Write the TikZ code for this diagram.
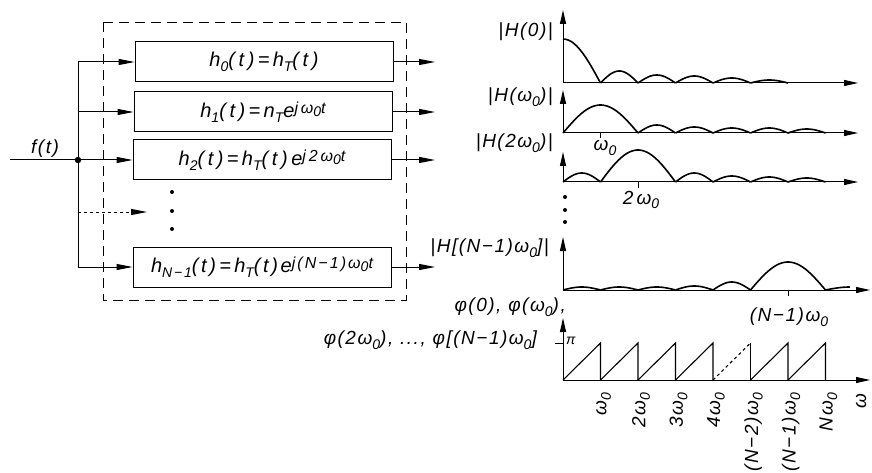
\documentclass[tikz,border=0pt]{standalone}
\usepackage{fontspec}
\setmainfont{Liberation Sans}[LetterSpace=8]
\usetikzlibrary{arrows.meta, positioning, fit}

\newcommand{\sub}[1]{\raisebox{-0.45ex}{\fontsize{14}{14}\selectfont #1}}
\newcommand{\ex}[1]{\raisebox{0.45ex}{\fontsize{16}{16}\selectfont #1}}
\newcommand{\lobe}[3]{\draw[spec] plot[domain=0:180, samples=30, smooth] ({(#1+#2*\x/180)*37.5}, {-(#3)*sin(\x)});}

\begin{document}
\begin{tikzpicture}[
    x=1pt, y=-1pt,
    filt/.style={
        rectangle, draw, line width=1pt,
        minimum width=258pt, minimum height=40pt, inner sep=1pt,
        font=\fontsize{20}{22}\selectfont\itshape\addfontfeatures{LetterSpace=18}
    },
    filtn/.style={filt,
        font=\fontsize{20}{22}\selectfont\itshape\addfontfeatures{LetterSpace=13}
    },
    sig/.style={-{Triangle[length=16pt, width=6pt]}, line width=1pt},
    ax/.style={-{Triangle[length=14pt, width=6pt]}, line width=1pt},
    spec/.style={line width=1.6pt},
    saw/.style={line width=1.1pt},
    lbl/.style={font=\fontsize{19}{22}\selectfont\itshape, inner sep=1pt},
    wlbl/.style={lbl, rotate=90, anchor=east},
    pt/.style={circle, fill, inner sep=0pt, minimum size=4pt}
]
\useasboundingbox (0,0) rectangle (872,473);

% === FILTER BANK ===

\draw[dashed, line width=0.9pt, dash pattern=on 10pt off 6pt] (103,22) rectangle (406,300);

\node[filt] (h0) at (264,62) {h\sub{0}(t)\,=\,h\sub{T}(t)};
\node[filt] (h1) at (263,112) {h\sub{1}(t)\,=\,n\sub{T}e\ex{jω\sub{0}t}};
\node[filt] (h2) at (262,160) {h\sub{2}(t)\,=\,h\sub{T}(t)e\ex{j2ω\sub{0}t}};
\node[filtn] (hn) at (262,267) {h\sub{N−1}(t)\,=\,h\sub{T}(t)e\ex{j(N−1)ω\sub{0}t}};

\coordinate (in) at (10,160);
\coordinate (bt) at (78,62);
\coordinate (bb) at (78,267);
\coordinate (dend) at (147,212);
\coordinate (oend) at (435,0);

\draw[line width=1pt] (in) -- (78,160);
\draw[line width=1pt] (bt) -- (bb);
\node[pt, minimum size=6.5pt] (split) at (78,160) {};
\node[lbl, above right=1pt and 20pt of in] (ft) {f(t)};

\draw[sig] (bt) -- (h0.west);
\draw[sig] (h1.west -| bt) -- (h1.west);
\draw[sig] (split) -- (h2.west);
\draw[sig, dashed] (dend -| bt) -- (dend);
\draw[sig] (bb) -- (hn.west);

\foreach \b in {h0, h1, h2, hn}
    \draw[sig] (\b.east) -- (\b.east -| oend);

\foreach \y in {192, 211, 229}
    \node[pt] at (172,\y) {};

% === AMPLITUDE SPECTRA ===

% |H(0)|
\begin{scope}[shift={(563,83)}]
\draw[ax] (0,0) -- (0,-73);
\draw[ax] (0,0) -- (295,0);
\draw[spec] plot[domain=90:180, samples=20, smooth] ({(\x-90)/90*37.5}, {-44*sin(\x)});
\foreach \k/\h in {1/12, 2/8, 3/7, 4/5, 5/3}
    {\lobe{\k}{1}{\h}}
\end{scope}
\node[lbl, anchor=east] (a0) at (554,32) {|H(0)|};

% |H(w0)|
\begin{scope}[shift={(563,133)}]
\draw[ax] (0,0) -- (0,-43);
\draw[ax] (0,0) -- (295,0);
\lobe{0}{2}{28}
\foreach \k/\h in {2/8, 3/6, 4/5, 5/5, 6/4}
    {\lobe{\k}{1}{\h}}
\draw[line width=0.8pt] (37.5,0) -- (37.5,5);
\node[lbl] (t1) at (42,15) {ω\sub{0}};
\end{scope}
\node[lbl, anchor=east] (a1) at (554,97) {|H(ω\sub{0})|};

% |H(2w0)|
\begin{scope}[shift={(563,182)}]
\draw[ax] (0,0) -- (0,-30);
\draw[ax] (0,0) -- (295,0);
\lobe{0}{1}{9}
\lobe{1}{2}{32}
\foreach \k/\h in {3/9, 4/6, 5/5, 6/4}
    {\lobe{\k}{1}{\h}}
\draw[line width=0.8pt] (75,0) -- (75,6);
\node[lbl] (t2) at (78,18) {2\,ω\sub{0}};
\end{scope}
\node[lbl, anchor=east] (a2) at (554,143) {|H(2ω\sub{0})|};

\foreach \y in {197, 210, 222}
    \node[pt] at (565,\y) {};

% |H[(N-1)w0]|
\begin{scope}[shift={(563,290)}]
\draw[ax] (0,0) -- (0,-53);
\draw[ax] (0,0) -- (307,0);
\foreach \k/\h in {0/3, 1/3, 2/3, 3/4, 4/8}
    {\lobe{\k}{1}{\h}}
\lobe{5}{2}{28}
\draw[spec] plot[domain=0:90, samples=12, smooth] ({(7+0.65*\x/90)*37.5}, {-3*sin(\x)});
\draw[line width=0.8pt] (225,0) -- (225,6);
\node[lbl] (tn) at (226,27) {(N−1)ω\sub{0}};
\end{scope}
\node[lbl, anchor=east] (an) at (550,248) {|H[(N−1)ω\sub{0}]|};

% === PHASE ===

\node[lbl, anchor=east] (p1) at (567,307) {φ(0), φ(ω\sub{0}),};
\node[lbl, anchor=east] (p2) at (538,340) {φ(2ω\sub{0}), ..., φ[(N−1)ω\sub{0}]};

\begin{scope}[shift={(563,380)}]
\draw[ax] (0,0) -- (0,-62);
\draw[ax] (0,0) -- (307,0);
\draw[line width=0.8pt] (-8,-37) -- (0,-37);
\node[lbl, anchor=west, font=\fontsize{14}{14}\selectfont\itshape] (pi) at (2,-39) {π};
\foreach \k in {0,1,2,3,5,6}
    \draw[saw] ({\k*37.5},0) -- ({(\k+1)*37.5},-37) -- ({(\k+1)*37.5},0);
\draw[saw, dashed] (150,0) -- (187.5,-37);
\draw[saw] (187.5,-37) -- (187.5,0);
\foreach \k/\t in {1/ω\sub{0}, 2/2ω\sub{0}, 3/3ω\sub{0}, 4/4ω\sub{0},
                   5/(N−2)ω\sub{0}, 6/(N−1)ω\sub{0}, 7/Nω\sub{0}}
    \node[wlbl] at ({\k*37.5+3},12) {\t};
\node[wlbl] (w) at (298,12) {ω};
\end{scope}

\end{tikzpicture}
\end{document}
